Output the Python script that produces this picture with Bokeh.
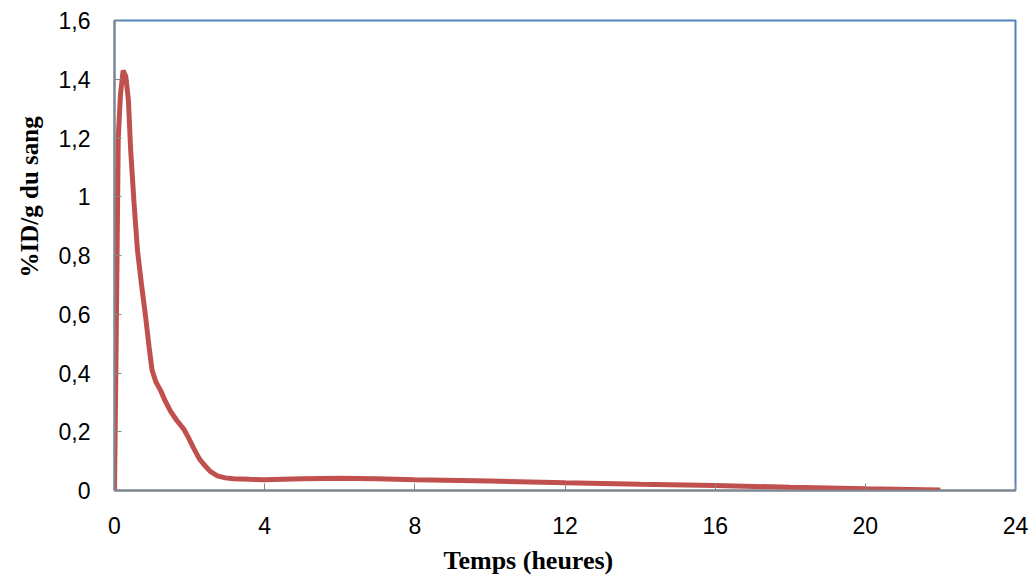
from bokeh.plotting import figure
from bokeh.models import Range1d, FixedTicker, CustomJSTickFormatter, Title
from bokeh.embed import file_html
from bokeh.resources import INLINE

# Data
hours = [0, 0.04, 0.07, 0.10, 0.16, 0.23, 0.30, 0.37, 0.43, 0.52, 0.61,
         0.72, 0.83, 0.92, 1.0, 1.1, 1.23, 1.35, 1.49, 1.65, 1.84, 1.95,
         2.1, 2.25, 2.37, 2.55, 2.74, 2.95, 3.17, 3.6, 4.0, 5.0, 6.0, 7.0,
         8.0, 10.0, 12.0, 14.0, 16.0, 18.0, 20.0, 22.0]
pid = [0, 0.45, 0.82, 1.2, 1.35, 1.43, 1.41, 1.33, 1.16, 0.98, 0.82,
       0.7, 0.59, 0.49, 0.41, 0.37, 0.34, 0.305, 0.27, 0.24, 0.21, 0.185,
       0.146, 0.11, 0.09, 0.065, 0.05, 0.043, 0.04, 0.038, 0.037, 0.04,
       0.042, 0.04, 0.037, 0.032, 0.026, 0.021, 0.017, 0.011, 0.006, 0.002]
x_ticks = [0, 4, 8, 12, 16, 20, 24]
y_ticks = [0, 0.2, 0.4, 0.6, 0.8, 1.0, 1.2, 1.4, 1.6]
x_title = "Temps (heures)"
y_title = "%ID/g du sang"

p = figure(frame_width=901, frame_height=470,
           x_range=Range1d(0, 24), y_range=Range1d(0, 1.6),
           output_backend="svg", toolbar_location=None,
           min_border_left=114, min_border_right=16,
           min_border_top=20, min_border_bottom=85)
p.background_fill_color = "white"
p.border_fill_color = "white"
p.outline_line_color = "#4f81bd"
p.outline_line_width = 2
p.xgrid.visible = False
p.ygrid.visible = False

p.line(hours, pid, line_color="#c0504d", line_width=5)

fmt = CustomJSTickFormatter(code="return (Math.round(tick*10)/10).toString().replace('.', ',');")
for ax, ticks, standoff in ((p.xaxis[0], x_ticks, 26), (p.yaxis[0], y_ticks, 24)):
    ax.ticker = FixedTicker(ticks=ticks)
    ax.formatter = fmt
    ax.axis_line_color = "#868686"
    ax.axis_line_width = 2
    ax.major_tick_line_color = "#868686"
    ax.major_tick_in = 7
    ax.major_tick_out = 0
    ax.minor_tick_line_color = None
    ax.major_label_text_font = "Liberation Sans"
    ax.major_label_text_font_size = "23px"
    ax.major_label_text_color = "black"
    ax.major_label_standoff = standoff

p.add_layout(Title(text=x_title, align="left", offset=329, standoff=14,
                   text_font="Liberation Serif", text_font_style="bold",
                   text_font_size="26px", text_color="black"), "below")
p.add_layout(Title(text=y_title, align="left", offset=213, standoff=22,
                   vertical_align="top",
                   text_font="Liberation Serif", text_font_style="bold",
                   text_font_size="25px", text_color="black"), "left")

open("out.html", "w").write(file_html(p, INLINE))
